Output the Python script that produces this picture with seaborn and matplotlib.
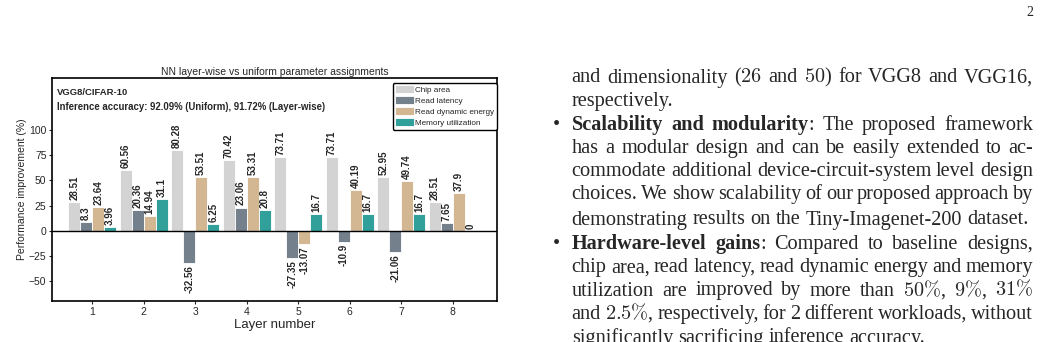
import numpy as np
import pandas as pd
import matplotlib
matplotlib.use("Agg")
import matplotlib.pyplot as plt
import seaborn as sns

# chart data
layers = ["1", "2", "3", "4", "5", "6", "7", "8"]
chip_area = [28.51, 60.56, 80.28, 70.42, 73.71, 73.71, 52.95, 28.51]
read_latency = [8.3, 20.36, -32.56, 23.06, -27.35, -10.9, -21.06, 7.65]
read_energy = [23.64, 14.94, 53.51, 53.31, -13.07, 40.19, 49.74, 37.9]
mem_util = [3.96, 31.1, 6.25, 20.8, 16.7, 16.7, 16.7, 0]
metrics = ["Chip area", "Read latency", "Read dynamic energy", "Memory utilization"]
colors = ["lightgray", "slategray", "burlywood", "lightseagreen"]
yticks = [-50, -25, 0, 25, 50, 75, 100]

# page text next to the figure (baseline y in px, justified?, bullet?, words)
page_lines = [
    (82.5, True, False, "and dimensionality ($26$ and $50$) for VGG8 and VGG16,"),
    (106.0, False, False, "respectively."),
    (130.3, True, True, "*Scalability *and *modularity|: The proposed framework"),
    (153.0, True, False, "has a modular design and can be easily extended to ac-"),
    (176.0, True, False, "commodate additional device-circuit-system level design"),
    (199.0, True, False, "choices. We show scalability of our proposed approach by"),
    (224.5, False, False, "demonstrating results on the Tiny-Imagenet-200 dataset."),
    (249.3, True, True, "*Hardware-level *gains|: Compared to baseline designs,"),
    (272.3, True, False, "chip area, read latency, read dynamic energy and memory"),
    (295.5, True, False, r"utilization are improved by more than $50\%$, $9\%$, $31\%$"),
    (319.0, True, False, r"and $2.5\%$, respectively, for 2 different workloads, without"),
    (342.5, False, False, "significantly sacrificing inference accuracy."),
]

W, H = 1041, 342

df = pd.DataFrame({
    "Layer": layers * 4,
    "Metric": np.repeat(metrics, len(layers)),
    "Value": chip_area + read_latency + read_energy + mem_util,
})

sns.set_theme(style="ticks")
plt.rcParams["font.family"] = ["Liberation Sans", "DejaVu Sans"]
plt.rcParams["mathtext.fontset"] = "cm"

fig = plt.figure(figsize=(W / 100, H / 100), dpi=100)
ax = fig.add_axes([52 / W, 1 - 301 / H, 445 / W, 223 / H])

sns.barplot(data=df, x="Layer", y="Value", hue="Metric", palette=colors,
            width=0.93, edgecolor="white", linewidth=0.6, ax=ax)

for c in ax.containers:
    ax.bar_label(c, labels=[f"{v:g}" for v in c.datavalues], rotation=90,
                 fontsize=7, fontweight="bold", padding=1.5)

ax.axhline(0, color="black", lw=1)
ax.set_ylim(-70, 152)
ax.set_xlim(-0.78, 7.86)
ax.set_yticks(yticks)
ax.set_xlabel("Layer number", fontsize=9.5, labelpad=2)
ax.set_ylabel("Performance improvement (%)", fontsize=7.5, labelpad=1)
ax.tick_params(labelsize=7.5, length=2.5, width=0.8, pad=1.5)
ax.set_title("NN layer-wise vs uniform parameter assignments", fontsize=7.5, pad=2)
for s in ax.spines.values():
    s.set_color("black")
    s.set_linewidth(1.2)

ax.text(0.012, 0.937, "VGG8/CIFAR-10", transform=ax.transAxes,
        fontsize=6.8, fontweight="bold", va="center")
ax.text(0.012, 0.87, "Inference accuracy: 92.09% (Uniform), 91.72% (Layer-wise)",
        transform=ax.transAxes, fontsize=6.9, fontweight="bold", va="center")

handles, labels = ax.get_legend_handles_labels()
leg = ax.legend(handles, labels, loc="upper right", bbox_to_anchor=(0.999, 0.978),
                fontsize=5.9, handlelength=2.3, handleheight=1.1, handletextpad=0.1,
                labelspacing=0.28, borderpad=0.3, borderaxespad=0, frameon=True,
                fancybox=True, framealpha=1)
leg.get_frame().set_edgecolor("black")

# ---- right-hand column of body text ----
fs = 14.6
body = dict(fontfamily=["Liberation Serif", "DejaVu Serif"], fontsize=fs, va="baseline")
x0, x1 = 571.7, 1033.0
space = 0.25 * fs * 100 / 72
renderer = fig.canvas.get_renderer()

for y, justify, bullet, line in page_lines:
    yf = 1 - y / H
    words = []
    for w in line.split(" "):
        segs = []
        if w.startswith("*"):
            b, _, rest = w[1:].partition("|")
            segs.append((b, "bold"))
            if rest:
                segs.append((rest, "normal"))
        else:
            segs.append((w, "normal"))
        words.append([fig.text(0, yf, s, fontweight=wt, **body) for s, wt in segs])
    widths = [[t.get_window_extent(renderer).width for t in objs] for objs in words]
    total = sum(sum(ws) for ws in widths)
    gap = (x1 - x0 - total) / (len(words) - 1) if justify and len(words) > 1 else space
    x = x0
    for objs, ws in zip(words, widths):
        for t, wd in zip(objs, ws):
            t.set_x(x / W)
            x += wd
        x += gap
    if bullet:
        fig.text(556.7 / W, yf, "\u2022", ha="center", **body)

fig.text(1026 / W, 1 - 16 / H, "2", fontfamily="Liberation Serif", fontsize=10, va="baseline")

fig.savefig("out.png", dpi=100)
